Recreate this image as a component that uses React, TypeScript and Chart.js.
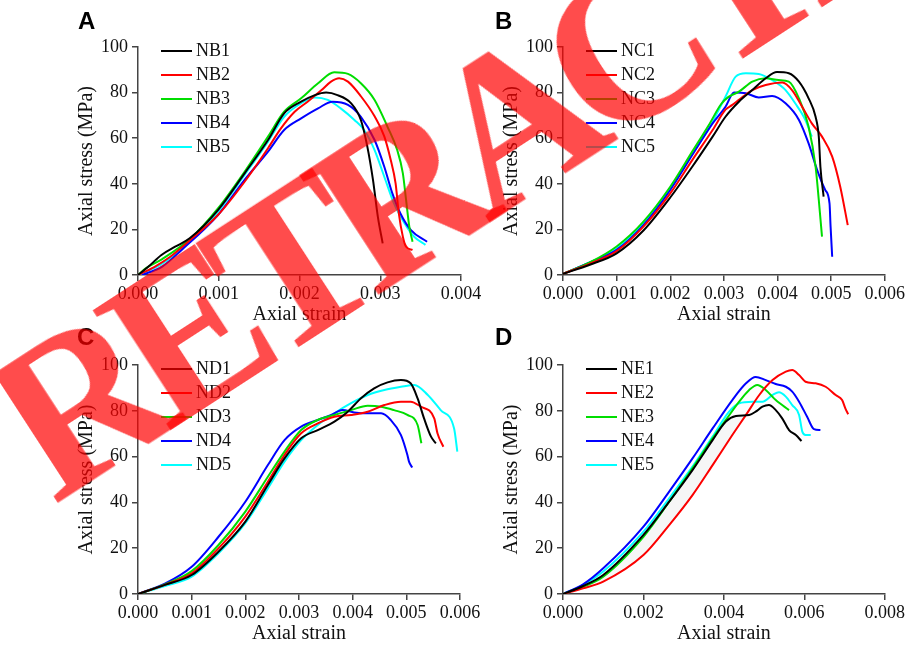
import React, { useEffect, useRef } from 'react';
import { Chart, registerables } from 'chart.js';

Chart.register(...registerables);

// ---------------- data (strain, stress in MPa) ----------------
const NB1 = [[0,0],[0.00013,3.7],[0.00029,8.8],[0.00046,12.4],[0.00064,16.1],[0.00099,28.5],[0.00132,44.6],[0.00161,59.2],[0.00181,70.9],[0.00202,76.0],[0.00219,78.9],[0.00233,80.0],[0.00247,78.9],[0.00264,75.3],[0.00276,68.0],[0.00284,56.3],[0.00291,41.7],[0.00297,25.6],[0.00303,13.9]];
const NB2 = [[0,0],[0.0002,3.5],[0.0004,8],[0.00065,15.5],[0.00099,26.3],[0.00132,40.9],[0.00161,55.6],[0.00177,64.3],[0.00194,71.6],[0.0021,76.0],[0.00227,81.0],[0.00239,84.8],[0.00249,86.3],[0.0026,84.8],[0.00276,78.4],[0.00293,69.6],[0.00305,60.8],[0.00313,50.4],[0.00319,40.2],[0.00323,27],[0.00328,16.8],[0.00332,12.4],[0.0034,11]];
const NB3 = [[0,0],[0.0001,3],[0.0003,7],[0.00065,16],[0.00099,29.2],[0.00132,45.3],[0.00161,60.7],[0.00181,71.6],[0.00202,77.5],[0.00223,84.1],[0.00243,88.9],[0.0026,88.2],[0.00276,84.1],[0.00293,76.8],[0.00309,65],[0.00321,54.8],[0.00328,44.6],[0.00332,32.9],[0.00336,21.2],[0.0034,14.6]];
const NB4 = [[0.00005,0],[0.0003,3.7],[0.00054,11],[0.00099,26.3],[0.00132,41.7],[0.00161,54.1],[0.00181,63.6],[0.00202,68.7],[0.00223,73.1],[0.00241,76.0],[0.0026,74.6],[0.00276,69.4],[0.00293,59.2],[0.00305,47.5],[0.00315,35.8],[0.00325,27],[0.00338,19.7],[0.00358,14.6]];
const NB5 = [[0,0],[0.0001,1.5],[0.0003,5],[0.0006,13.5],[0.00099,27.8],[0.00132,43.9],[0.00161,58.5],[0.00181,69.4],[0.00202,75.3],[0.00219,77.9],[0.00235,76.8],[0.00251,73.1],[0.00268,68],[0.0028,63.6],[0.00293,54.8],[0.00305,43.1],[0.00317,31.4],[0.0033,22.7],[0.00342,16.8],[0.00356,13.2]];

const NC1 = [[0,0.5],[0.0005,4.5],[0.001,9.5],[0.0015,19.5],[0.002,34],[0.00241,47.5],[0.00279,60.7],[0.00303,69.4],[0.00328,76.0],[0.00353,81.1],[0.00378,86.3],[0.00399,89],[0.00421,88.5],[0.0044,84.8],[0.00458,77.5],[0.00471,69.4],[0.00477,60.7],[0.0048,47.5],[0.00486,34.4]];
const NC2 = [[0,0.5],[0.0005,5],[0.001,10.5],[0.0015,21.2],[0.002,35.8],[0.00241,50.4],[0.00279,63.6],[0.00303,72.5],[0.00315,74.5],[0.00328,76.8],[0.00353,81.1],[0.00378,83.3],[0.00409,84.4],[0.00427,81.1],[0.00446,73.8],[0.00464,66.5],[0.00483,60.7],[0.00502,51.9],[0.00517,38.7],[0.00531,21.9]];
const NC3 = [[0,0.5],[0.0005,5.5],[0.001,12.5],[0.0015,23.4],[0.002,38.7],[0.00241,54.1],[0.00272,65.8],[0.00295,75],[0.00308,78],[0.00328,80.4],[0.00353,84.8],[0.00378,86.3],[0.00402,85.5],[0.00421,84.8],[0.0044,77.5],[0.00458,65],[0.00471,47.5],[0.00477,32.9],[0.00483,16.8]];
const NC4 = [[0,0.5],[0.0005,5.5],[0.001,11],[0.0015,21.9],[0.002,37.3],[0.00241,52.6],[0.00279,66.5],[0.00303,73.8],[0.00319,80],[0.00341,79.7],[0.00365,77.9],[0.0039,78.5],[0.00415,75.3],[0.0044,68],[0.00458,57.7],[0.00474,46],[0.00489,37.3],[0.00497,31.4],[0.00499,21.2],[0.00502,8]];
const NC5 = [[0,0.5],[0.0005,5.5],[0.001,11.5],[0.0015,22.7],[0.002,38],[0.00241,53.4],[0.00272,64.3],[0.00303,78.2],[0.00322,87],[0.00341,88.5],[0.00365,88.2],[0.0039,85.5],[0.00415,81.1],[0.00433,75.3],[0.00452,68],[0.00464,60.7]];

const ND1 = [[0,0],[0.0005,4],[0.001,8.3],[0.0015,18.5],[0.002,31.6],[0.00242,47.6],[0.00273,59.2],[0.00304,68],[0.00335,71.6],[0.00366,75.3],[0.00391,79.6],[0.00415,85.4],[0.0044,89.8],[0.00465,92.4],[0.0049,93.4],[0.00508,92],[0.00521,85.4],[0.00533,76.7],[0.00546,68.7],[0.00555,65.8]];
const ND2 = [[0,0],[0.0005,4],[0.001,9],[0.0015,19.9],[0.002,33.8],[0.00242,49],[0.00273,60.7],[0.00304,70.2],[0.00335,74.5],[0.00366,77.4],[0.00397,78.2],[0.00428,79.6],[0.00459,82.5],[0.0049,84],[0.00508,84],[0.00527,81.8],[0.00552,76.7],[0.00558,70.2],[0.00569,64.3]];
const ND3 = [[0,0],[0.0005,4.2],[0.001,10],[0.0015,21.4],[0.002,36],[0.00242,51.2],[0.00273,62.2],[0.00304,71.6],[0.00335,76],[0.00366,78.2],[0.00397,80.3],[0.00428,82.2],[0.00453,81.8],[0.00477,80.3],[0.00502,78.2],[0.00521,73.8],[0.00528,65.8]];
const ND4 = [[0,0],[0.0005,4.5],[0.001,11.9],[0.0015,25],[0.002,40.3],[0.00242,56.3],[0.00273,67.2],[0.00304,73.1],[0.00335,76],[0.0036,78.2],[0.00381,80.3],[0.00403,79.3],[0.00428,78.9],[0.00453,78.9],[0.00471,76],[0.0049,69.4],[0.00502,60.7],[0.00505,57.8],[0.00511,55.2]];
const ND5 = [[0,0],[0.0005,3.5],[0.001,7.6],[0.0015,17.8],[0.002,30.9],[0.00242,46.1],[0.00273,57.8],[0.00304,67.2],[0.00335,73.8],[0.00366,78.9],[0.00397,83.3],[0.00428,86.9],[0.00459,89.1],[0.0049,90.5],[0.00515,91.3],[0.0054,86.9],[0.00564,80.3],[0.00589,72.3],[0.00595,62.2]];

const NE1 = [[0,0],[0.0005,3.5],[0.001,8.3],[0.002,25.8],[0.00264,40.3],[0.00322,54.1],[0.00372,67.2],[0.00405,75.3],[0.0043,77.7],[0.00463,78.2],[0.00479,79.6],[0.00496,81.8],[0.00512,82.5],[0.00529,80.3],[0.00545,76.7],[0.00562,71.6],[0.00579,69.4],[0.00593,66.8]];
const NE2 = [[0,0],[0.0005,2.5],[0.001,5.4],[0.002,17],[0.00264,30.1],[0.00322,43.2],[0.00372,56.3],[0.00421,69.4],[0.00455,78.2],[0.00488,86.9],[0.00521,93.4],[0.00554,97.1],[0.0057,97.8],[0.00587,95.6],[0.00603,92.7],[0.00628,92],[0.00653,90.5],[0.00678,86.9],[0.00694,84.7],[0.00702,81.1],[0.00709,78.5]];
const NE3 = [[0,0],[0.0005,3.2],[0.001,7.6],[0.002,25],[0.00264,40.3],[0.00322,54.9],[0.00372,68],[0.00405,76],[0.00438,84],[0.00463,89.1],[0.00483,91.3],[0.00504,89.1],[0.00529,84.7],[0.00562,80.3]];
const NE4 = [[0,0],[0.0005,4.2],[0.001,11.2],[0.002,29.4],[0.00264,44.7],[0.00322,59.2],[0.00372,72.3],[0.00421,84.7],[0.00455,92],[0.00479,94.8],[0.00504,93.4],[0.00529,91.7],[0.00554,90.5],[0.0057,88.4],[0.00587,84],[0.00607,77.4],[0.00624,72],[0.0064,71.6]];
const NE5 = [[0,0],[0.0005,4],[0.001,9.8],[0.002,27.2],[0.00264,41.8],[0.00322,55.6],[0.00372,68.7],[0.00413,79.6],[0.00438,83.3],[0.00471,84],[0.00496,84],[0.00521,86.9],[0.00537,88.1],[0.00554,86.2],[0.0057,82.5],[0.00587,78.2],[0.00595,70.9],[0.00603,69.4],[0.00616,69.4]];

const LABELS_B = ['NB1', 'NB2', 'NB3', 'NB4', 'NB5'];
const LABELS_C = ['NC1', 'NC2', 'NC3', 'NC4', 'NC5'];
const LABELS_D = ['ND1', 'ND2', 'ND3', 'ND4', 'ND5'];
const LABELS_E = ['NE1', 'NE2', 'NE3', 'NE4', 'NE5'];

const Y_MAX = 100;
const Y_STEP = 20;
const X_TITLE = 'Axial strain';
const Y_TITLE = 'Axial stress (MPa)';
const WATERMARK = 'RETRACTED';

// ---------------- styling / layout ----------------
const PAGE_W = 907;
const PAGE_H = 646;
const SERIF = '"Liberation Serif", "Times New Roman", serif';
const SANS = '"Liberation Sans", Arial, sans-serif';
const COLORS = ['#000000', '#ff0000', '#00dd00', '#0000ff', '#00ffff'];
const AXIS_COLOR = '#444444';
const TEXT_COLOR = '#111111';
const YW = 70; // y-axis box width
const XH = 52; // x-axis box height

const PANELS = [
  { letter: 'A', lx: 78, ly: 29, left: 138, right: 461, top: 47, bottom: 275, xMax: 0.004, xStep: 0.001, labels: LABELS_B, series: [NB1, NB2, NB3, NB4, NB5], shade: false },
  { letter: 'B', lx: 495, ly: 29, left: 563, right: 886, top: 47, bottom: 275, xMax: 0.006, xStep: 0.001, labels: LABELS_C, series: [NC1, NC2, NC3, NC4, NC5], shade: false },
  { letter: 'C', lx: 77, ly: 345, left: 138, right: 460, top: 365, bottom: 594, xMax: 0.006, xStep: 0.001, labels: LABELS_D, series: [ND1, ND2, ND3, ND4, ND5], shade: false },
  { letter: 'D', lx: 495, ly: 345, left: 563, right: 886, top: 365, bottom: 594, xMax: 0.008, xStep: 0.002, labels: LABELS_E, series: [NE1, NE2, NE3, NE4, NE5], shade: true },
];

const legendPlugin = {
  id: 'lineLegend',
  afterDatasetsDraw(chart: any, _args: any, opts: any) {
    const { ctx, chartArea } = chart;
    ctx.save();
    ctx.font = `18px ${SERIF}`;
    ctx.textBaseline = 'middle';
    ctx.textAlign = 'left';
    chart.data.datasets.forEach((ds: any, i: number) => {
      const y = chartArea.top + 4 + i * 24;
      ctx.strokeStyle = ds.borderColor;
      ctx.lineWidth = 2;
      ctx.beginPath();
      ctx.moveTo(chartArea.left + 23, y);
      ctx.lineTo(chartArea.left + 54, y);
      ctx.stroke();
      ctx.fillStyle = TEXT_COLOR;
      ctx.fillText(ds.label, chartArea.left + 58, y);
    });
    ctx.font = `bold 24px ${SANS}`;
    ctx.textBaseline = 'alphabetic';
    ctx.fillStyle = '#000';
    ctx.fillText(opts.letter, opts.lx, opts.ly);
    ctx.restore();
  },
};

function makeConfig(p: any): any {
  const tickFont = { family: SERIF, size: 18 };
  const titleFont = { family: SERIF, size: 20 };
  return {
    type: 'line',
    data: {
      datasets: p.series.map((pts: number[][], i: number) => ({
        label: p.labels[i],
        data: pts.map(([x, y]) => ({ x, y })),
        borderColor: COLORS[i],
        backgroundColor: COLORS[i],
        borderWidth: 2,
        pointRadius: 0,
        fill: p.shade && i === 0 ? { target: 1, above: 'rgba(0,0,0,0.035)', below: 'rgba(0,0,0,0)' } : false,
        cubicInterpolationMode: 'monotone',
      })),
    },
    options: {
      responsive: false,
      animation: false,
      events: [],
      layout: {
        padding: {
          left: p.left - YW,
          top: p.top,
          right: PAGE_W - p.right,
          bottom: PAGE_H - p.bottom - XH,
        },
      },
      scales: {
        x: {
          type: 'linear',
          min: 0,
          max: p.xMax,
          afterFit: (s: any) => { s.height = XH; },
          ticks: {
            stepSize: p.xStep,
            autoSkip: false,
            maxRotation: 0,
            minRotation: 0,
            padding: 2,
            color: TEXT_COLOR,
            font: tickFont,
            callback: (v: any) => Number(v).toFixed(3),
          },
          grid: { drawOnChartArea: false, drawTicks: true, tickLength: 6, color: AXIS_COLOR, lineWidth: 1.5 },
          border: { display: true, color: AXIS_COLOR, width: 1.5 },
          title: { display: true, text: X_TITLE, color: TEXT_COLOR, font: titleFont, padding: { top: 0, bottom: 0 } },
        },
        y: {
          type: 'linear',
          min: 0,
          max: Y_MAX,
          afterFit: (s: any) => { s.width = YW; },
          ticks: { stepSize: Y_STEP, padding: 4, color: TEXT_COLOR, font: tickFont },
          grid: { drawOnChartArea: false, drawTicks: true, tickLength: 6, color: AXIS_COLOR, lineWidth: 1.5 },
          border: { display: true, color: AXIS_COLOR, width: 1.5 },
          title: { display: true, text: Y_TITLE, color: TEXT_COLOR, font: titleFont, padding: { top: 7, bottom: 0 } },
        },
      },
      plugins: {
        legend: { display: false },
        tooltip: { enabled: false },
        filler: { propagate: false },
        lineLegend: { letter: p.letter, lx: p.lx, ly: p.ly },
      },
    },
    plugins: [legendPlugin],
  };
}

function Panel({ cfg }: { cfg: any }) {
  const ref = useRef<HTMLCanvasElement | null>(null);
  useEffect(() => {
    if (!ref.current) return;
    const chart = new Chart(ref.current, makeConfig(cfg));
    return () => chart.destroy();
  }, [cfg]);
  return (
    <canvas
      ref={ref}
      width={PAGE_W}
      height={PAGE_H}
      style={{ position: 'absolute', left: 0, top: 0, width: PAGE_W, height: PAGE_H, display: 'block' }}
    />
  );
}

export default function App() {
  return (
    <div style={{ position: 'absolute', left: 0, top: 0, width: PAGE_W, height: PAGE_H, overflow: 'hidden', background: '#fff' }}>
      {PANELS.map((p) => (
        <Panel key={p.letter} cfg={p} />
      ))}
      <div
        style={{
          position: 'absolute',
          left: 505,
          top: 126,
          transform: 'translate(-50%, -50%) rotate(-33deg)',
          font: `bold 218px ${SERIF}`,
          letterSpacing: '-22px',
          lineHeight: 1,
          color: 'rgba(255, 0, 0, 0.7)',
          whiteSpace: 'nowrap',
          pointerEvents: 'none',
        }}
      >
        {WATERMARK}
      </div>
    </div>
  );
}
